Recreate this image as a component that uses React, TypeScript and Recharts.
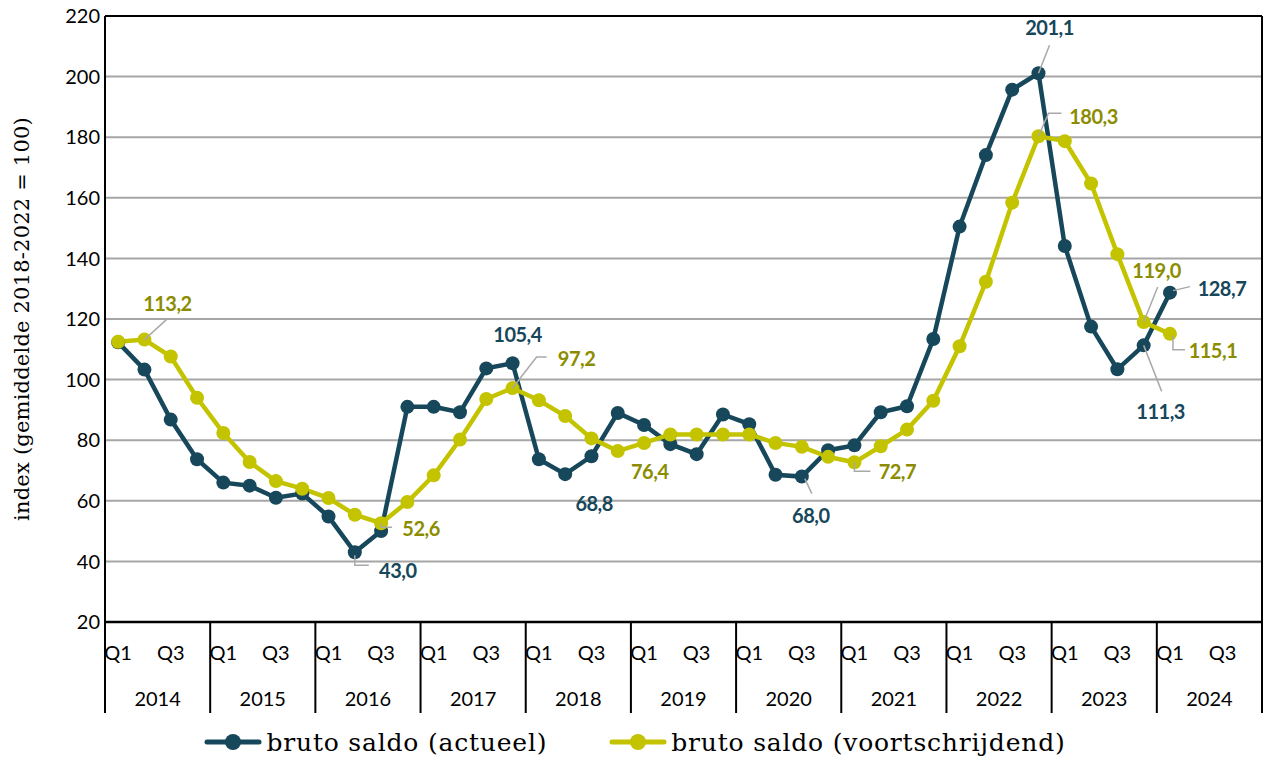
import React from 'react';
import { LineChart, Line, XAxis, YAxis, CartesianGrid, ReferenceLine, Legend } from 'recharts';

const years = [2014, 2015, 2016, 2017, 2018, 2019, 2020, 2021, 2022, 2023, 2024];
const quarters = ['Q1', 'Q2', 'Q3', 'Q4'];
const yTicks = [20, 40, 60, 80, 100, 120, 140, 160, 180, 200, 220];

// bruto saldo (actueel), 2014 Q1 .. 2024 Q1
const actueel = [
    112.3, 103.3, 86.8, 73.7,
    66.0, 65.0, 61.0, 62.4,
    54.8, 43.0, 50.0, 91.0,
    91.0, 89.2, 103.7, 105.4,
    73.7, 68.8, 74.7, 89.0,
    85.0, 78.7, 75.4, 88.5,
    85.3, 68.6, 68.0, 76.7,
    78.3, 89.2, 91.2, 113.4,
    150.5, 174.1, 195.7, 201.1,
    144.1, 117.5, 103.4, 111.3,
    128.7,
];

// bruto saldo (voortschrijdend), 2014 Q1 .. 2024 Q1
const voortschrijdend = [
    112.5, 113.2, 107.6, 94.0,
    82.4, 72.8, 66.5, 64.0,
    60.9, 55.4, 52.6, 59.6,
    68.4, 80.2, 93.6, 97.2,
    93.2, 88.0, 80.6, 76.4,
    79.1, 81.9, 81.9, 81.9,
    81.9, 79.1, 77.8, 74.5,
    72.7, 78.0, 83.5, 93.0,
    111.0, 132.3, 158.4, 180.3,
    178.7, 164.7, 141.4, 119.0,
    115.1,
];

const BLUE = '#17475a';
const YELLOW = '#c3c300';
const YELLOW_TEXT = '#8c8c00';
const LEADER = '#a9a9a9';

const W = 1270;
const H = 772;
const Y_AXIS_W = 105;
const RIGHT_W = 8;
const X_AXIS_H = 90;
const LEGEND_H = 60;
const HALF = (W - Y_AXIS_W - RIGHT_W) / (years.length * 4) / 2;

const data = years.flatMap((yr, yi) =>
    quarters.map((q, qi) => {
        const i = yi * 4 + qi;
        return {
            key: `${yr}-${q}`,
            actueel: i < actueel.length ? actueel[i] : null,
            voortschrijdend: i < voortschrijdend.length ? voortschrijdend[i] : null,
        };
    })
);

type Note = { i: number; dx: number; dy: number; leader?: number[][] };

// label placement (offsets from the point)
const blueNotes: Note[] = [
    { i: 9, dx: 43, dy: 18, leader: [[0, 3], [0, 13], [14, 13]] },
    { i: 15, dx: 5, dy: -29 },
    { i: 17, dx: 29, dy: 29 },
    { i: 26, dx: 9, dy: 38, leader: [[3, 2], [10, 17]] },
    { i: 35, dx: 11, dy: -46, leader: [[0, 0], [11, -28]] },
    { i: 39, dx: 17, dy: 66, leader: [[0, 0], [18, 46]] },
    { i: 40, dx: 52, dy: -5, leader: [[3, -2], [20, -6]] },
];

const yellowNotes: Note[] = [
    { i: 1, dx: 23, dy: -37, leader: [[0, 0], [22, -20]] },
    { i: 10, dx: 40, dy: 5, leader: [[0, 0], [0, 4], [11, 4]] },
    { i: 15, dx: 64, dy: -30, leader: [[0, 0], [24, -31], [34, -31]] },
    { i: 19, dx: 32, dy: 20 },
    { i: 28, dx: 43, dy: 9, leader: [[0, 0], [0, 9], [16, 9]] },
    { i: 35, dx: 55, dy: -20, leader: [[0, 0], [10, -23], [23, -23]] },
    { i: 39, dx: 13, dy: -52, leader: [[0, 0], [14, -35]] },
    { i: 40, dx: 43, dy: 16, leader: [[3, 2], [3, 16], [15, 16]] },
];

const fmt = (v: number) => v.toFixed(1).replace('.', ',');

const makeDot = (dataKey: string, color: string, textColor: string, notes: Note[]) => (p: any) => {
    const { cx, cy, index, payload } = p;
    const value = payload ? payload[dataKey] : null;
    if (cx == null || cy == null || value == null) return <g key={`d-${dataKey}-${index}`} />;
    const note = notes.find((n) => n.i === index);
    return (
        <g key={`d-${dataKey}-${index}`}>
            <circle cx={cx} cy={cy} r={7} fill={color} stroke='none' />
            {note && note.leader && (
                <polyline
                    points={note.leader.map(([a, b]) => `${cx + a},${cy + b}`).join(' ')}
                    fill='none'
                    stroke={LEADER}
                    strokeWidth={1.5}
                />
            )}
            {note && (
                <text
                    x={cx + note.dx}
                    y={cy + note.dy}
                    textAnchor='middle'
                    dominantBaseline='central'
                    fontFamily='Lato'
                    fontWeight={700}
                    fontSize={20}
                    letterSpacing={-0.5}
                    fill={textColor}
                >
                    {fmt(value)}
                </text>
            )}
        </g>
    );
};

const XTick = (p: any) => {
    const { x, y, payload } = p;
    const [yr, q] = String(payload.value).split('-');
    const isLast = yr === String(years[years.length - 1]) && q === 'Q4';
    const txt = { fontFamily: 'Lato', fontSize: 20, fill: '#000' };
    return (
        <g>
            {(q === 'Q1' || q === 'Q3') && (
                <text x={x} y={y + 38} textAnchor='middle' {...txt}>
                    {q}
                </text>
            )}
            {q === 'Q1' && <line x1={x - HALF} x2={x - HALF} y1={y} y2={y + 91} stroke='#000' strokeWidth={2} />}
            {q === 'Q2' && (
                <text x={x + HALF} y={y + 84} textAnchor='middle' {...txt}>
                    {yr}
                </text>
            )}
            {isLast && <line x1={x + HALF} x2={x + HALF} y1={y} y2={y + 91} stroke='#000' strokeWidth={2} />}
        </g>
    );
};

const LegendIcon = ({ color }: { color: string }) => (
    <svg width={58} height={20} style={{ marginRight: 4 }}>
        <line x1={3} x2={55} y1={10} y2={10} stroke={color} strokeWidth={5} strokeLinecap='round' />
        <circle cx={29} cy={10} r={8} fill={color} />
    </svg>
);

const renderLegend = () => (
    <div
        style={{
            display: 'flex',
            justifyContent: 'center',
            alignItems: 'center',
            height: LEGEND_H,
            fontFamily: '"DejaVu Serif"',
            fontSize: 25,
            letterSpacing: 0.8,
            color: '#000',
        }}
    >
        <div style={{ display: 'flex', alignItems: 'center', marginRight: 62 }}>
            <LegendIcon color={BLUE} />
            <span>bruto saldo (actueel)</span>
        </div>
        <div style={{ display: 'flex', alignItems: 'center' }}>
            <LegendIcon color={YELLOW} />
            <span>bruto saldo (voortschrijdend)</span>
        </div>
    </div>
);

const YTitle = (p: any) => {
    const vb = p.viewBox || { y: 16, height: 606 };
    const cy = vb.y + vb.height / 2;
    return (
        <text
            x={22}
            y={cy}
            transform={`rotate(-90 22 ${cy})`}
            textAnchor='middle'
            dominantBaseline='central'
            fontFamily='DejaVu Serif'
            fontSize={21}
            letterSpacing={0.2}
            fill='#000'
        >
            index (gemiddelde 2018-2022 = 100)
        </text>
    );
};

const App = () => {
    return (
        <div style={{ position: 'absolute', left: 0, top: 0, width: W, height: H, background: '#fff' }}>
            <LineChart width={W} height={H} data={data} margin={{ top: 16, right: 0, bottom: 0, left: 0 }}>
                <CartesianGrid vertical={false} stroke='#a6a6a6' strokeWidth={2} />
                <XAxis
                    dataKey='key'
                    interval={0}
                    height={X_AXIS_H}
                    padding={{ left: HALF, right: HALF }}
                    tickLine={false}
                    tickSize={0}
                    tickMargin={0}
                    tick={<XTick />}
                    axisLine={{ stroke: '#000', strokeWidth: 2.5 }}
                />
                <YAxis
                    domain={[20, 220]}
                    ticks={yTicks}
                    width={Y_AXIS_W}
                    tickLine={false}
                    tickSize={0}
                    tickMargin={5}
                    axisLine={{ stroke: '#000', strokeWidth: 2 }}
                    tick={{ fontFamily: 'Lato', fontSize: 20, fill: '#000' }}
                    label={<YTitle />}
                />
                <YAxis
                    yAxisId='right'
                    orientation='right'
                    domain={[20, 220]}
                    width={RIGHT_W}
                    tick={false}
                    tickLine={false}
                    axisLine={{ stroke: '#000', strokeWidth: 2 }}
                />
                <ReferenceLine y={220} stroke='#000' strokeWidth={2} />
                <Legend verticalAlign='bottom' height={LEGEND_H} content={renderLegend} />
                <Line
                    type='linear'
                    dataKey='actueel'
                    stroke={BLUE}
                    strokeWidth={4.5}
                    dot={makeDot('actueel', BLUE, BLUE, blueNotes)}
                    activeDot={false}
                    isAnimationActive={false}
                />
                <Line
                    type='linear'
                    dataKey='voortschrijdend'
                    stroke={YELLOW}
                    strokeWidth={4.5}
                    dot={makeDot('voortschrijdend', YELLOW, YELLOW_TEXT, yellowNotes)}
                    activeDot={false}
                    isAnimationActive={false}
                />
            </LineChart>
        </div>
    );
};

export default App;
